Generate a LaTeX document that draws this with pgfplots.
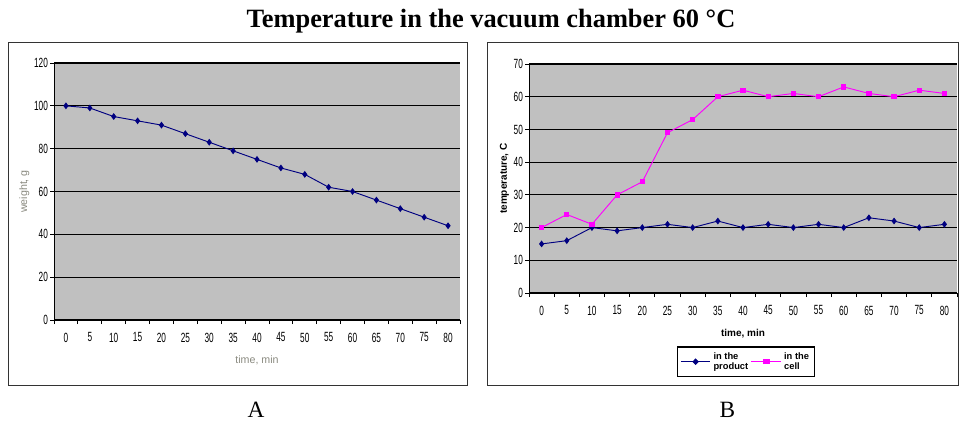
\documentclass[border=0pt]{standalone}
\usepackage{pgfplots}
\pgfplotsset{compat=1.18}
\usepackage{fontspec}
\setmainfont{Liberation Sans}
\newfontfamily\serif{Liberation Serif}
\definecolor{plotgray}{HTML}{C0C0C0}
\definecolor{navy}{HTML}{000080}
\definecolor{mag}{HTML}{FF00FF}
\definecolor{labA}{HTML}{8A8A80}
\pgfplotsset{
  excel/.style={
    scale only axis,
    anchor=south west,
    axis background/.style={fill=plotgray},
    xmin=-0.5, xmax=16.5,
    xtick={0,...,16},
    xticklabels={0,5,10,15,20,25,30,35,40,45,50,55,60,65,70,75,80},
    major x tick style={draw=none},
    minor xtick={-0.5,0.5,...,16.5},
    minor tick length=3pt,
    major tick length=3pt,
    tick align=outside,
    ymajorgrids,
    grid style={black, line width=0.8pt},
    axis x line*=bottom,
    axis y line*=left,
    axis line style={black, line width=0.6pt},
    tick style={black, line width=0.6pt},
    ticklabel style={font=\fontsize{10}{11}\selectfont, xscale=0.62, transform shape},
    /pgf/number format/assume math mode=true,
    xticklabel style={yshift=-3pt},
    yticklabel style={xshift=1pt},
    clip=false,
  }
}
\begin{document}
\begin{tikzpicture}
\path[use as bounding box] (0,0) rectangle (719.25pt,319.5pt);
\node[font=\serif\bfseries\fontsize{19.8}{22}\selectfont] at (368.25pt,304pt) {Temperature in the vacuum chamber 60 °C};
\node[font=\serif\fontsize{17.5}{20}\selectfont] at (192pt,12pt) {A};
\node[font=\serif\fontsize{17.5}{20}\selectfont] at (545.5pt,12pt) {B};
\draw[black!80, line width=0.7pt] (6pt,30.75pt) rectangle (350.25pt,288pt);
\draw[black!80, line width=0.7pt] (365.25pt,30.75pt) rectangle (718.5pt,288pt);

\begin{axis}[excel,
  at={(40.5pt,79.5pt)}, width=304.5pt, height=192.75pt,
  ymin=0, ymax=120, ytick={0,20,...,120},
  xlabel={time, min}, ylabel={weight, g},
  label style={font=\fontsize{8}{9}\selectfont, text=labA},
  xlabel style={yshift=-3pt},
  ylabel style={yshift=-2pt},
]
\addplot[navy, line width=0.7pt, mark=diamond*, mark size=2pt] coordinates {
(0,100) (1,99) (2,95) (3,93) (4,91) (5,87) (6,83) (7,79) (8,75) (9,71)
(10,68) (11,62) (12,60) (13,56) (14,52) (15,48) (16,44)};
\end{axis}

\begin{axis}[excel,
  at={(396.75pt,99.75pt)}, width=321pt, height=171.75pt,
  ymin=0, ymax=70, ytick={0,10,...,70},
  xlabel={time, min}, ylabel={temperature, C},
  label style={font=\bfseries\fontsize{7.5}{8}\selectfont},
  xlabel style={yshift=-4pt},
  ylabel style={yshift=-2pt},
  legend style={at={(0.507,-0.30)}, anchor=center, draw=black, line width=0.8pt,
    font=\bfseries\fontsize{7}{7.5}\selectfont, legend columns=2,
    cells={align=left}, inner sep=2pt},
  legend cell align=left,
  legend image post style={xscale=1.3},
]
\addplot[navy, line width=0.7pt, mark=diamond*, mark size=2pt] coordinates {
(0,15) (1,16) (2,20) (3,19) (4,20) (5,21) (6,20) (7,22) (8,20) (9,21)
(10,20) (11,21) (12,20) (13,23) (14,22) (15,20) (16,21)};
\addlegendentry{in the\\product\hspace{2em}}
\addplot[mag, line width=0.7pt, mark=square*, mark size=1.6pt] coordinates {
(0,20) (1,24) (2,21) (3,30) (4,34) (5,49) (6,53) (7,60) (8,62) (9,60)
(10,61) (11,60) (12,63) (13,61) (14,60) (15,62) (16,61)};
\addlegendentry{in the\\cell\hspace{0.8em}}
\end{axis}
\end{tikzpicture}
\end{document}
